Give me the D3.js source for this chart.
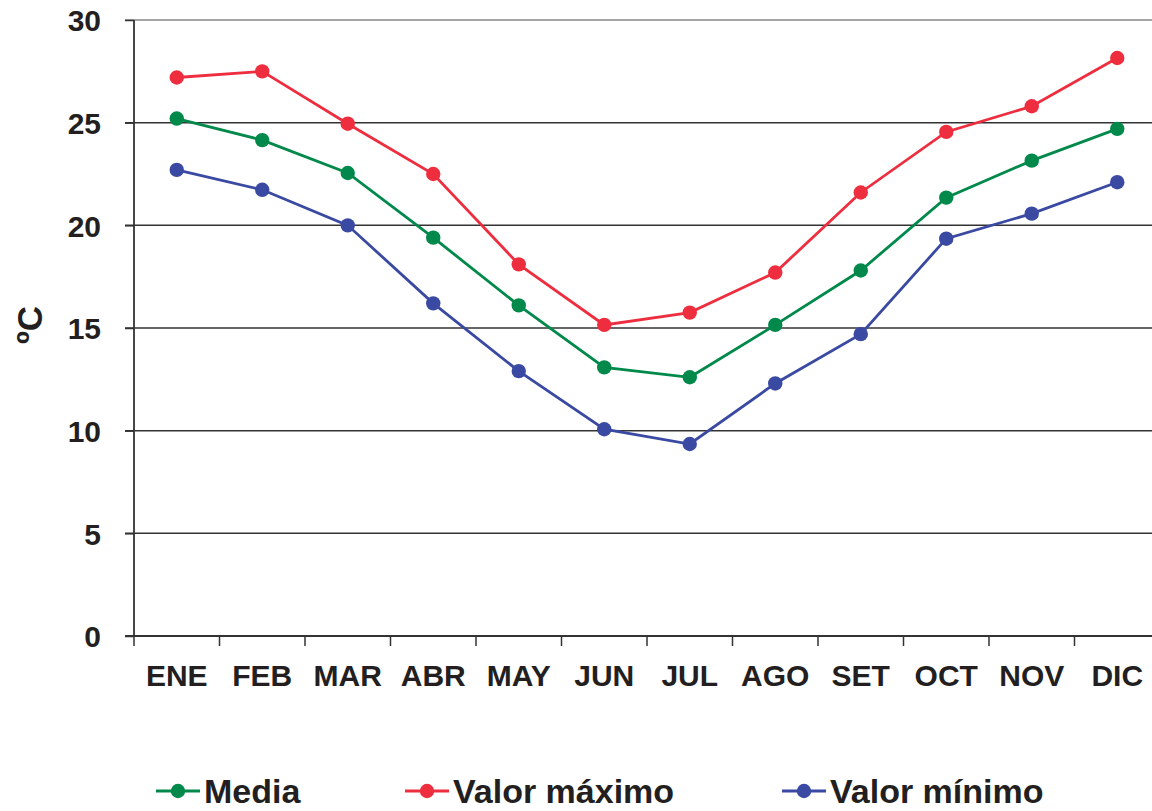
<!DOCTYPE html>
<html>
<head>
<meta charset="utf-8">
<script src="https://cdn.jsdelivr.net/npm/d3@7"></script>
<style>
  body { margin: 0; background: #fff; }
  text { font-family: "Liberation Sans", Arial, sans-serif; font-weight: bold; fill: #231f20; }
</style>
</head>
<body>
<svg id="chart" width="1152" height="811"></svg>
<script>
const width = 1152;
const height = 811;

const months = ["ENE", "FEB", "MAR", "ABR", "MAY", "JUN", "JUL", "AGO", "SET", "OCT", "NOV", "DIC"];
const media = [25.2, 24.15, 22.55, 19.4, 16.1, 13.08, 12.6, 15.15, 17.8, 21.35, 23.15, 24.7];
const maximo = [27.2, 27.5, 24.95, 22.5, 18.1, 15.15, 15.75, 17.7, 21.6, 24.55, 25.8, 28.15];
const minimo = [22.7, 21.73, 20.0, 16.2, 12.9, 10.07, 9.35, 12.3, 14.7, 19.35, 20.57, 22.1];
const yTicks = [0, 5, 10, 15, 20, 25, 30];

const series = [
    { name: "Media", values: media, color: "#00894a", legendX: 156 },
    { name: "Valor máximo", values: maximo, color: "#ee2e3f", legendX: 405 },
    { name: "Valor mínimo", values: minimo, color: "#3a49a2", legendX: 782 }
];

const plotLeft = 134, plotRight = 1160, plotTop = 20, plotBottom = 636;

const svg = d3.select("#chart");

const xScale = d3.scaleBand().domain(months).range([plotLeft, plotRight]);
const yScale = d3.scaleLinear().domain([0, 30]).range([plotBottom, plotTop]);

// grid lines
svg.selectAll(".grid").data(yTicks.filter(d => d > 0)).enter()
    .append("line")
    .attr("x1", plotLeft - 9)
    .attr("x2", width)
    .attr("y1", d => yScale(d))
    .attr("y2", d => yScale(d))
    .attr("stroke", d => d === 30 ? "#888" : "#333")
    .attr("stroke-width", 1.5);

// y axis
const yAxis = d3.axisLeft(yScale).tickValues(yTicks).tickSize(9).tickPadding(24);
const gy = svg.append("g").attr("transform", `translate(${plotLeft},0)`).call(yAxis);
gy.select(".domain").remove();
gy.selectAll(".tick line").attr("stroke", "#333").attr("stroke-width", 1.5);
gy.selectAll(".tick text").style("font-size", "30px").attr("dy", "0.36em");
svg.append("line")
    .attr("x1", plotLeft).attr("x2", plotLeft)
    .attr("y1", plotTop).attr("y2", plotBottom)
    .attr("stroke", "#333").attr("stroke-width", 1.8);

// x axis
const xTickPos = months.map(m => xScale(m)).concat([plotRight]);
svg.append("line")
    .attr("x1", plotLeft - 9).attr("x2", width)
    .attr("y1", plotBottom).attr("y2", plotBottom)
    .attr("stroke", "#333").attr("stroke-width", 1.8);
svg.selectAll(".xtick").data(xTickPos).enter()
    .append("line")
    .attr("x1", d => d).attr("x2", d => d)
    .attr("y1", plotBottom).attr("y2", plotBottom + 10)
    .attr("stroke", "#333").attr("stroke-width", 1.5);
svg.selectAll(".xlabel").data(months).enter()
    .append("text")
    .attr("x", d => xScale(d) + xScale.bandwidth() / 2)
    .attr("y", 686)
    .attr("text-anchor", "middle")
    .style("font-size", "30px")
    .text(d => d);

// y title
svg.append("text")
    .attr("transform", "translate(42,325) rotate(-90)")
    .attr("text-anchor", "middle")
    .style("font-size", "35px")
    .text("ºC");

// series
const line = d3.line()
    .x((d, i) => xScale(months[i]) + xScale.bandwidth() / 2)
    .y(d => yScale(d));

series.forEach(s => {
    svg.append("path")
        .datum(s.values)
        .attr("fill", "none")
        .attr("stroke", s.color)
        .attr("stroke-width", 2.8)
        .attr("d", line);
    svg.selectAll(null).data(s.values).enter()
        .append("circle")
        .attr("cx", (d, i) => xScale(months[i]) + xScale.bandwidth() / 2)
        .attr("cy", d => yScale(d))
        .attr("r", 7.2)
        .attr("fill", s.color);
});

// legend
const legend = svg.selectAll(".legend").data(series).enter()
    .append("g")
    .attr("transform", d => `translate(${d.legendX},791)`);
legend.append("line")
    .attr("x1", 0).attr("x2", 44)
    .attr("stroke", d => d.color).attr("stroke-width", 2.8);
legend.append("circle")
    .attr("cx", 22).attr("r", 7.2)
    .attr("fill", d => d.color);
legend.append("text")
    .attr("x", 48)
    .attr("y", 12)
    .style("font-size", "34px")
    .text(d => d.name);
</script>
</body>
</html>
